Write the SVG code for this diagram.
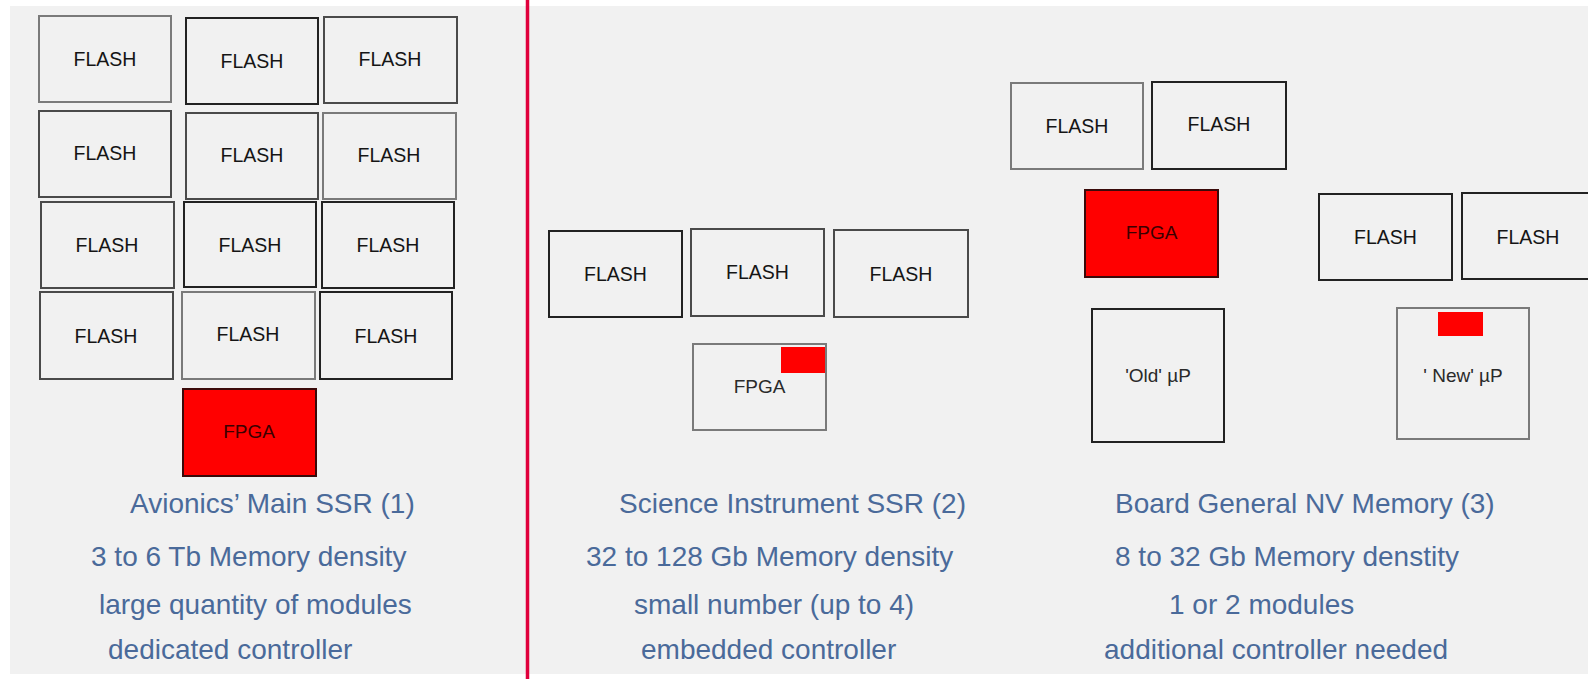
<svg xmlns="http://www.w3.org/2000/svg" width="1588" height="679" viewBox="0 0 1588 679">
  <style>
    .panel { fill: #f1f1f1; }
    .box { fill: #f1f1f1; stroke: #4a4a4a; stroke-width: 2; }
    .box.lt { stroke: #7a7a7a; }
    .box.dk { stroke: #222; }
    .fpga { fill: #ff0000; stroke: #3a0a0a; stroke-width: 2; }
    .tab { fill: #ff0000; }
    .lbl { font-family: "Liberation Sans", Arial, sans-serif; font-size: 19.5px; fill: #151515; text-anchor: middle; }
    .lbl.onred { fill: #3a0000; font-size: 19px; }
    .lbl.small { font-size: 19px; fill: #2a2a2a; }
    .cap { font-family: "Liberation Sans", Arial, sans-serif; font-size: 28px; fill: #4a6a9a; }
    .divider { stroke: #e0003c; stroke-width: 3.5; }
  </style>

  <!-- background panel -->
  <rect class="panel" x="10" y="6" width="1578" height="668"/>

  <!-- vertical separator between the two halves -->
  <line class="divider" x1="527.5" y1="0" x2="527.5" y2="679"/>

  <!-- (1) Avionics main SSR: 4 x 3 flash array + dedicated FPGA -->
  <g id="ssr1">
    <g id="ssr1-flash-1"><rect class="box lt" x="39" y="16" width="132" height="86"/><text class="lbl" x="105" y="66">FLASH</text></g>
    <g id="ssr1-flash-2"><rect class="box dk" x="186" y="18" width="132" height="86"/><text class="lbl" x="252" y="68">FLASH</text></g>
    <g id="ssr1-flash-3"><rect class="box" x="324" y="17" width="133" height="86"/><text class="lbl" x="390" y="66">FLASH</text></g>

    <g id="ssr1-flash-4"><rect class="box" x="39" y="111" width="132" height="86"/><text class="lbl" x="105" y="160">FLASH</text></g>
    <g id="ssr1-flash-5"><rect class="box" x="186" y="113" width="132" height="86"/><text class="lbl" x="252" y="162">FLASH</text></g>
    <g id="ssr1-flash-6"><rect class="box lt" x="323" y="113" width="133" height="86"/><text class="lbl" x="389" y="162">FLASH</text></g>

    <g id="ssr1-flash-7"><rect class="box" x="41" y="202" width="133" height="86"/><text class="lbl" x="107" y="252">FLASH</text></g>
    <g id="ssr1-flash-8"><rect class="box dk" x="184" y="202" width="132" height="85"/><text class="lbl" x="250" y="252">FLASH</text></g>
    <g id="ssr1-flash-9"><rect class="box dk" x="322" y="202" width="132" height="86"/><text class="lbl" x="388" y="252">FLASH</text></g>

    <g id="ssr1-flash-10"><rect class="box" x="40" y="292" width="133" height="87"/><text class="lbl" x="106" y="343">FLASH</text></g>
    <g id="ssr1-flash-11"><rect class="box lt" x="182" y="292" width="133" height="87"/><text class="lbl" x="248" y="341">FLASH</text></g>
    <g id="ssr1-flash-12"><rect class="box dk" x="320" y="292" width="132" height="87"/><text class="lbl" x="386" y="343">FLASH</text></g>

    <g id="ssr1-fpga"><rect class="fpga" x="183" y="389" width="133" height="87"/><text class="lbl onred" x="249" y="438">FPGA</text></g>

    <g id="ssr1-caption">
      <text class="cap" x="130" y="513">Avionics’ Main SSR (1)</text>
      <text class="cap" x="91" y="566">3 to 6 Tb Memory density</text>
      <text class="cap" x="99" y="614">large quantity of modules</text>
      <text class="cap" x="108" y="659">dedicated controller</text>
    </g>
  </g>

  <!-- (2) Science instrument SSR: 3 flash + FPGA with embedded controller -->
  <g id="ssr2">
    <g id="ssr2-flash-1"><rect class="box dk" x="549" y="231" width="133" height="86"/><text class="lbl" x="615.5" y="281">FLASH</text></g>
    <g id="ssr2-flash-2"><rect class="box" x="691" y="229" width="133" height="87"/><text class="lbl" x="757.5" y="279">FLASH</text></g>
    <g id="ssr2-flash-3"><rect class="box" x="834" y="230" width="134" height="87"/><text class="lbl" x="901" y="281">FLASH</text></g>

    <g id="ssr2-fpga">
      <rect class="box lt" x="693" y="344" width="133" height="86"/>
      <rect class="tab" x="781" y="347" width="44" height="26"/>
      <text class="lbl small" x="759.5" y="393">FPGA</text>
    </g>

    <g id="ssr2-caption">
      <text class="cap" x="619" y="513">Science Instrument SSR (2)</text>
      <text class="cap" x="586" y="566">32 to 128 Gb Memory density</text>
      <text class="cap" x="634" y="614">small number (up to 4)</text>
      <text class="cap" x="641" y="659">embedded controller</text>
    </g>
  </g>

  <!-- (3) Board general NV memory: old vs new processor -->
  <g id="nvmem">
    <g id="nv-flash-1"><rect class="box lt" x="1011" y="83" width="132" height="86"/><text class="lbl" x="1077" y="133">FLASH</text></g>
    <g id="nv-flash-2"><rect class="box dk" x="1152" y="82" width="134" height="87"/><text class="lbl" x="1219" y="131">FLASH</text></g>
    <g id="nv-fpga"><rect class="fpga" x="1085" y="190" width="133" height="87"/><text class="lbl onred" x="1151.5" y="239">FPGA</text></g>
    <g id="nv-old-up"><rect class="box dk" x="1092" y="309" width="132" height="133"/><text class="lbl small" x="1158" y="382">'Old' µP</text></g>

    <g id="nv-flash-3"><rect class="box dk" x="1319" y="194" width="133" height="86"/><text class="lbl" x="1385.5" y="244">FLASH</text></g>
    <g id="nv-flash-4"><rect class="box dk" x="1462" y="193" width="133" height="86"/><text class="lbl" x="1528" y="244">FLASH</text></g>
    <g id="nv-new-up">
      <rect class="box lt" x="1397" y="308" width="132" height="131"/>
      <rect class="tab" x="1438" y="312" width="45" height="24"/>
      <text class="lbl small" x="1463" y="382">' New' µP</text>
    </g>

    <g id="nv-caption">
      <text class="cap" x="1115" y="513">Board General NV Memory (3)</text>
      <text class="cap" x="1115" y="566">8 to 32 Gb Memory denstity</text>
      <text class="cap" x="1169" y="614">1 or 2 modules</text>
      <text class="cap" x="1104" y="659">additional controller needed</text>
    </g>
  </g>
</svg>
